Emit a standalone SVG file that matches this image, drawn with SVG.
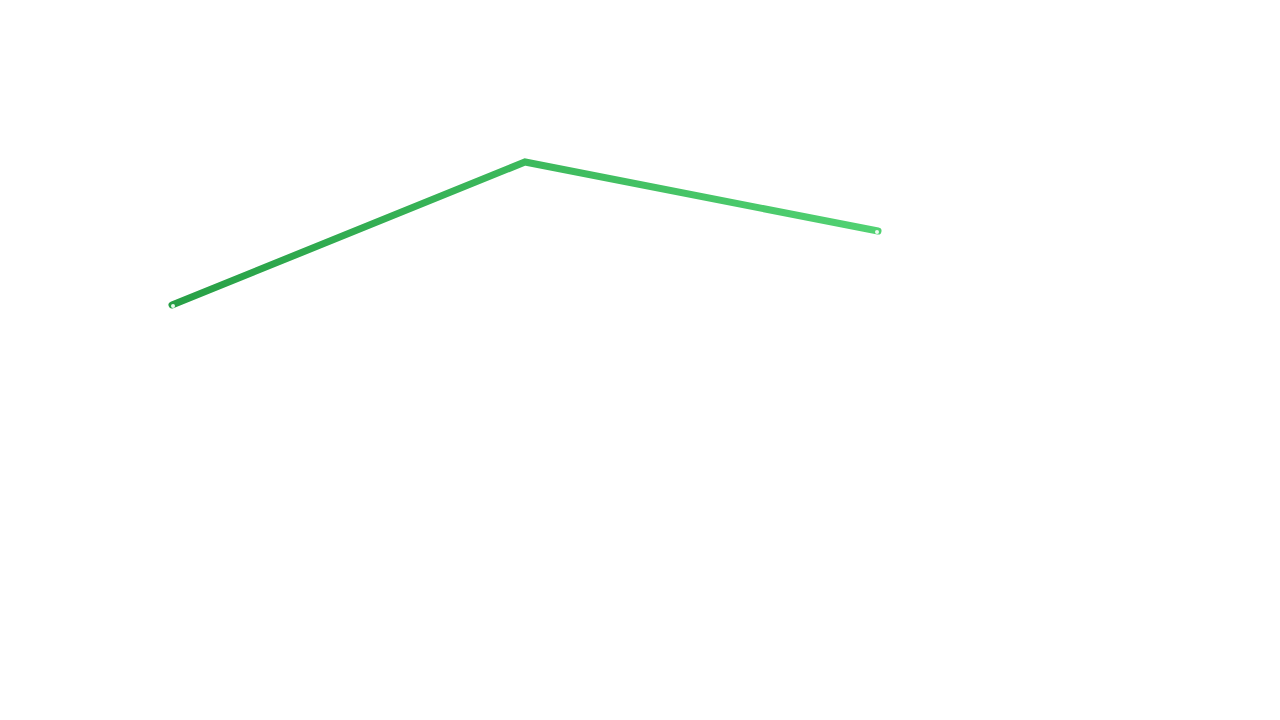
<svg xmlns="http://www.w3.org/2000/svg" width="1280" height="720" viewBox="0 0 1280 720">
<defs>
<linearGradient id="g" gradientUnits="userSpaceOnUse" x1="172" y1="0" x2="878" y2="0">
<stop offset="0" stop-color="#27a046"/>
<stop offset="1" stop-color="#52d273"/>
</linearGradient>
</defs>
<rect width="1280" height="720" fill="#fff"/>
<g id="connectors">
<polyline points="172,305 525,162 878,231" fill="none" stroke="url(#g)" stroke-width="7" stroke-linecap="round" stroke-linejoin="miter"/>
<circle cx="173" cy="306" r="2" fill="#e8f8ec"/>
<circle cx="877" cy="232" r="2" fill="#f0fbf3"/>
</g>
</svg>
